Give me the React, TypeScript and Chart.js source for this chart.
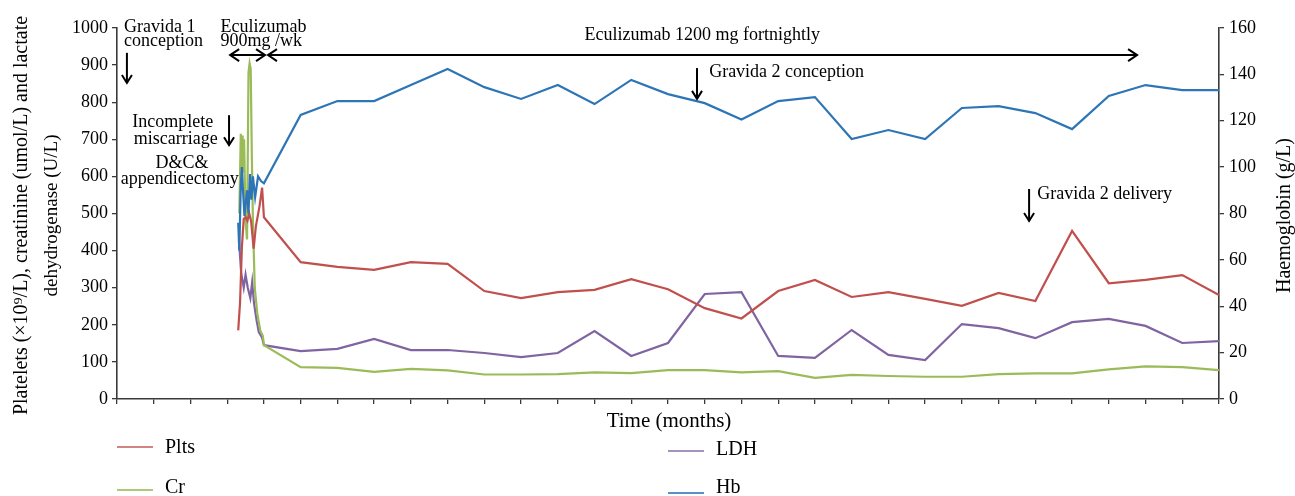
import React, { useEffect, useRef } from 'react';
import { Chart, registerables } from 'chart.js';

Chart.register(...registerables);

const FONT = '"Liberation Serif", "Times New Roman", serif';

// ---- Data (time in months, x axis units) ----
const pltsTime = [3.3, 3.35, 3.4, 3.45, 3.5, 3.55, 3.6, 3.65, 3.72, 3.78, 3.88, 3.95, 4, 5, 6, 7, 8, 9, 10, 11, 12, 13, 14, 15, 16, 17, 18, 19, 20, 21, 22, 23, 24, 25, 26, 27, 28, 29, 30];
const pltsValues = [185, 260, 410, 485, 490, 480, 500, 480, 405, 465, 520, 570, 490, 369, 356, 348, 369, 364, 291, 272, 288, 294, 323, 296, 245, 217, 291, 321, 275, 288, 270, 251, 286, 264, 453, 312, 321, 334, 280];

const crTime = [3.33, 3.37, 3.39, 3.42, 3.44, 3.46, 3.5, 3.54, 3.58, 3.61, 3.64, 3.67, 3.7, 3.75, 3.82, 3.9, 3.97, 4, 5, 6, 7, 8, 9, 10, 11, 12, 13, 14, 15, 16, 17, 18, 19, 20, 21, 22, 23, 24, 25, 26, 27, 28, 29, 30];
const crValues = [500, 715, 600, 710, 610, 700, 480, 430, 880, 905, 890, 660, 480, 300, 230, 185, 170, 145, 86, 84, 73, 81, 77, 66, 66, 67, 72, 70, 78, 78, 72, 75, 57, 65, 62, 60, 60, 67, 69, 69, 80, 88, 86, 78];

const ldhTime = [3.32, 3.38, 3.45, 3.5, 3.56, 3.63, 3.68, 3.73, 3.8, 3.86, 3.95, 4, 5, 6, 7, 8, 9, 10, 11, 12, 13, 14, 15, 16, 17, 18, 19, 20, 21, 22, 23, 24, 25, 26, 27, 28, 29, 30];
const ldhValues = [430, 340, 300, 335, 300, 272, 315, 258, 212, 180, 165, 145, 129, 135, 162, 132, 132, 124, 113, 124, 183, 116, 151, 283, 288, 116, 111, 186, 119, 105, 202, 191, 164, 207, 216, 197, 151, 156];

const hbTime = [3.3, 3.33, 3.37, 3.4, 3.43, 3.47, 3.5, 3.54, 3.58, 3.62, 3.66, 3.7, 3.76, 3.84, 3.92, 4, 5, 6, 7, 8, 9, 10, 11, 12, 13, 14, 15, 16, 17, 18, 19, 20, 21, 22, 23, 24, 25, 26, 27, 28, 29, 30];
const hbValues = [76, 64, 92, 100, 90, 79, 84, 90, 80, 97, 86, 96, 87, 96, 94, 93, 122.5, 128.5, 128.5, 135.4, 142.3, 134.5, 129.4, 135.4, 127.2, 137.6, 131.5, 127.6, 120.5, 128.5, 130.2, 112.1, 116, 112.1, 125.5, 126.3, 123.3, 116.4, 130.7, 135.4, 133.2, 133.2];

const seriesLabels = ['Plts', 'Cr', 'LDH', 'Hb'];
const leftMax = 1000;
const leftStep = 100;
const rightMax = 160;
const rightStep = 20;
const timeMax = 30;

const C_PLTS = '#C0504D';
const C_CR = '#9BBB59';
const C_LDH = '#8064A2';
const C_HB = '#2E75B6';
const AXIS = '#3a3a3a';

function toPoints(xs: number[], ys: number[]) {
  return xs.map((x, i) => ({ x, y: ys[i] }));
}

const annotationPlugin = {
  id: 'annotations',
  afterDraw(chart: any) {
    const { ctx } = chart;
    const xs = chart.scales.x;
    const ys = chart.scales.y;
    // convert time units / left-axis units to pixels
    const X = (v: number) => xs.getPixelForValue(v);
    const Y = (v: number) => ys.getPixelForValue(v);
    const ca = chart.chartArea;
    ctx.save();
    ctx.fillStyle = '#000';
    ctx.strokeStyle = '#000';
    ctx.lineWidth = 2;
    ctx.lineCap = 'butt';

    const text = (t: string, x: number, y: number, align: CanvasTextAlign, size = 18) => {
      ctx.font = `${size}px ${FONT}`;
      ctx.textAlign = align;
      ctx.textBaseline = 'alphabetic';
      ctx.fillText(t, x, y);
    };
    const down = (x: number, y0: number, y1: number) => {
      ctx.beginPath();
      ctx.moveTo(x, y0);
      ctx.lineTo(x, y1);
      ctx.stroke();
      ctx.beginPath();
      ctx.moveTo(x - 5, y1 - 8);
      ctx.lineTo(x, y1);
      ctx.lineTo(x + 5, y1 - 8);
      ctx.stroke();
    };
    const dbl = (x0: number, x1: number, y: number, leftHead: boolean) => {
      ctx.beginPath();
      ctx.moveTo(x0, y);
      ctx.lineTo(x1, y);
      ctx.stroke();
      if (leftHead) {
        ctx.beginPath();
        ctx.moveTo(x0 + 9, y - 6);
        ctx.lineTo(x0, y);
        ctx.lineTo(x0 + 9, y + 6);
        ctx.stroke();
      }
      ctx.beginPath();
      ctx.moveTo(x1 - 9, y - 6);
      ctx.lineTo(x1, y);
      ctx.lineTo(x1 - 9, y + 6);
      ctx.stroke();
    };

    // Gravida 1 conception
    text('Gravida 1', X(0.19), Y(989), 'left');
    text('conception', X(0.19), Y(951), 'left');
    down(X(0.27), Y(933), Y(852));

    // Eculizumab 900mg/wk
    text('Eculizumab', X(2.82), Y(989), 'left');
    text('900mg /wk', X(2.82), Y(951), 'left');
    dbl(X(3.08), X(4.03), Y(927), true);
    dbl(X(4.11), X(27.77), Y(927), true);
    text('Eculizumab 1200 mg fortnightly', X(15.93), Y(968), 'center');

    // Gravida 2 conception
    down(X(15.79), Y(892), Y(809));
    text('Gravida 2 conception', X(16.12), Y(868), 'left');

    // Incomplete miscarriage
    text('Incomplete', X(1.52), Y(733), 'center');
    text('miscarriage', X(1.6), Y(687), 'center');
    down(X(3.05), Y(765), Y(684));
    text('D&C&', X(1.77), Y(623), 'center');
    text('appendicectomy', X(1.71), Y(580), 'center');

    // Gravida 2 delivery
    down(X(24.83), Y(566), Y(480));
    text('Gravida 2 delivery', X(25.05), Y(539), 'left');

    // Axis titles
    const rot = (t: string, bx: number, cy: number, size: number) => {
      ctx.save();
      ctx.translate(bx, cy);
      ctx.rotate(-Math.PI / 2);
      ctx.font = `${size}px ${FONT}`;
      ctx.textAlign = 'center';
      ctx.textBaseline = 'alphabetic';
      ctx.fillText(t, 0, 0);
      ctx.restore();
    };
    const midY = (ca.top + ca.bottom) / 2 + 2;
    rot('Platelets (\u00D710\u2079/L), creatinine (umol/L) and lactate', 27, midY, 20);
    rot('dehydrogenase (U/L)', 57, midY, 19);
    rot('Haemoglobin (g/L)', 1290, midY, 20);

    ctx.font = `21px ${FONT}`;
    ctx.textAlign = 'center';
    ctx.textBaseline = 'alphabetic';
    ctx.fillText('Time (months)', (ca.left + ca.right) / 2 + 1, 427);

    // Legend
    const legendColors = ['rgba(192,80,77,0.7)', 'rgba(155,187,89,0.8)', 'rgba(128,100,162,0.7)', 'rgba(46,117,182,0.8)'];
    const legendLine = [
      [117, 447],
      [117, 490],
      [668, 451],
      [668, 493],
    ];
    const legendBase = [453, 493, 455, 493];
    seriesLabels.forEach((lab, i) => {
      const [lx, ly] = legendLine[i];
      ctx.strokeStyle = legendColors[i];
      ctx.lineWidth = 2;
      ctx.beginPath();
      ctx.moveTo(lx, ly);
      ctx.lineTo(lx + 36, ly);
      ctx.stroke();
      ctx.fillStyle = '#000';
      ctx.font = `20px ${FONT}`;
      ctx.textAlign = 'left';
      ctx.textBaseline = 'alphabetic';
      ctx.fillText(lab, lx + 48, legendBase[i]);
    });
    ctx.restore();
  },
};

export default function App() {
  const ref = useRef<HTMLCanvasElement>(null);
  useEffect(() => {
    document.body.style.margin = '0';
    if (!ref.current) return;
    const common = {
      borderWidth: 2.2,
      pointRadius: 0,
      tension: 0,
      fill: false,
    };
    const gridOpts = {
      drawOnChartArea: false,
      drawTicks: true,
      tickLength: 5,
      color: AXIS,
      lineWidth: 1.3,
    };
    const borderOpts = { display: true, color: AXIS, width: 1.6 };
    const tickFont = { family: FONT, size: 18 };
    const plain = (v: any) => String(v);
    const chart = new Chart(ref.current, {
      type: 'line',
      data: {
        datasets: [
          { label: 'Hb', data: toPoints(hbTime, hbValues), borderColor: C_HB, yAxisID: 'y1', ...common },
          { label: 'Plts', data: toPoints(pltsTime, pltsValues), borderColor: C_PLTS, yAxisID: 'y', ...common },
          { label: 'Cr', data: toPoints(crTime, crValues), borderColor: C_CR, yAxisID: 'y', ...common },
          { label: 'LDH', data: toPoints(ldhTime, ldhValues), borderColor: C_LDH, yAxisID: 'y', ...common },
        ],
      },
      options: {
        responsive: false,
        animation: false,
        layout: { padding: { top: 28, left: 0, right: 0, bottom: 0 } },
        plugins: { legend: { display: false }, tooltip: { enabled: false }, title: { display: false } },
        scales: {
          x: {
            type: 'linear',
            min: 0,
            max: timeMax,
            ticks: { stepSize: 1, display: false, autoSkip: false },
            grid: gridOpts,
            border: borderOpts,
            afterFit: (s: any) => {
              s.height = 97;
            },
          },
          y: {
            type: 'linear',
            position: 'left',
            min: 0,
            max: leftMax,
            ticks: { stepSize: leftStep, font: tickFont, color: '#000', padding: 4, callback: plain },
            grid: gridOpts,
            border: borderOpts,
            afterFit: (s: any) => {
              s.width = 117;
            },
          },
          y1: {
            type: 'linear',
            position: 'right',
            min: 0,
            max: rightMax,
            ticks: { stepSize: rightStep, font: tickFont, color: '#000', padding: 5, callback: plain },
            grid: gridOpts,
            border: borderOpts,
            afterFit: (s: any) => {
              s.width = 76;
            },
          },
        },
      } as any,
      plugins: [annotationPlugin],
    });
    return () => chart.destroy();
  }, []);
  return (
    <canvas
      ref={ref}
      width={1295}
      height={496}
      style={{ display: 'block', width: 1295, height: 496 }}
    />
  );
}
